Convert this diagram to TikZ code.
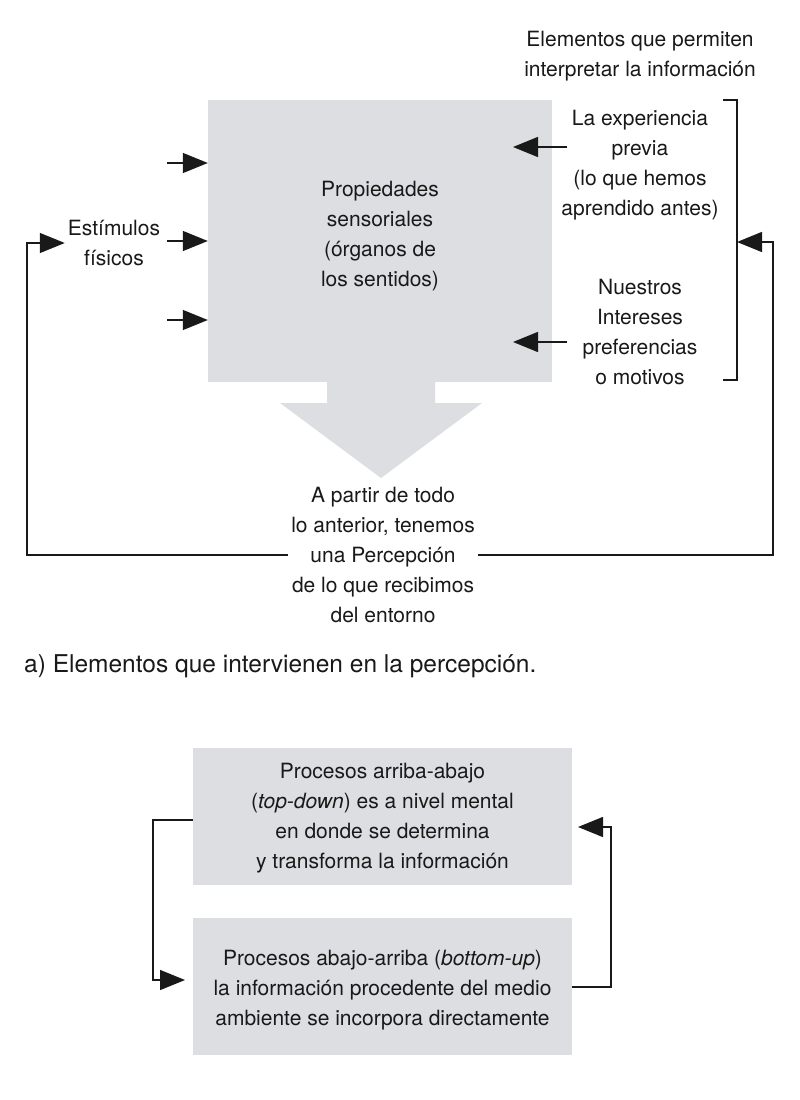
\documentclass[tikz,border=0pt]{standalone}
\usepackage{fontspec}
\setmainfont{TeX Gyre Heros}
\usetikzlibrary{arrows.meta,calc}
\definecolor{boxgray}{RGB}{221,222,225}
\definecolor{ink}{RGB}{25,25,25}
\tikzset{myhead/.tip={Triangle[length=25pt,width=20pt]}}
\begin{document}
\begin{tikzpicture}[x=1pt,y=-1pt,
  txt/.style={align=center,text=ink,font=\fontsize{21}{30}\selectfont,inner sep=3pt},
  gbox/.style={fill=boxgray,draw=none,inner sep=0pt},
  ln/.style={draw=ink,line width=1.4pt},
  arr/.style={ln,-myhead}]
\useasboundingbox (0,0) rectangle (800,1100);
\fill[white] (0,0) rectangle (800,1100);
% top part
\node[gbox,minimum width=344pt,minimum height=282pt] (props) at (380,241) {};
\fill[boxgray] (327,380) -- (435,380) -- (435,403) -- (482,403) -- (381,478) -- (280,403) -- (327,403) -- cycle;
\node[txt] (propst) at (380,236) {Propiedades\\sensoriales\\(órganos de\\los sentidos)};
\node[txt] (title) at (640,56) {Elementos que permiten\\interpretar la información};
\node[txt] (exp) at (640,165) {La experiencia\\previa\\(lo que hemos\\aprendido antes)};
\node[txt] (int) at (640,332) {Nuestros\\Intereses\\preferencias\\o motivos};
\node[txt] (estim) at (114,243) {Estímulos\\físicos};
\node[txt] (perc) at (383,555) {A partir de todo\\lo anterior, tenemos\\una Percepción\\de lo que recibimos\\del entorno};
\node[txt,anchor=west,font=\fontsize{24.5}{30}\selectfont] (cap) at (21,666) {a) Elementos que intervienen en la percepción.};
% left input arrows
\coordinate (l1) at (167,163);
\coordinate (l2) at (167,241);
\coordinate (l3) at (167,320);
\draw[arr] (l1) -- (l1 -| props.west);
\draw[arr] (l2) -- (l2 -| props.west);
\draw[arr] (l3) -- (l3 -| props.west);
% right input arrows
\coordinate (r1s) at (567,147);
\coordinate (r1e) at (513,147);
\coordinate (r2s) at (567,342);
\coordinate (r2e) at (513,342);
\draw[arr] (r1s) -- (r1e);
\draw[arr] (r2s) -- (r2e);
% bracket
\coordinate (bt) at (737,100);
\coordinate (bb) at (737,380);
\coordinate (brk) at (737,242);
\draw[ln] ($(bt)+(-14,0)$) -- (bt) -- (bb) -- ++(-14,0);
% feedback loops
\draw[arr] (perc.west) -- (27,555) |- (estim.west);
\draw[arr] (perc.east) -- (773,555) |- (brk);
% bottom part
\node[gbox,minimum width=379pt,minimum height=137pt] (td) at (382.5,816.5) {};
\node[txt] (tdt) at (382.5,818) {Procesos arriba-abajo\\(\textit{top-down}) es a nivel mental\\en donde se determina\\y transforma la información};
\node[gbox,minimum width=379pt,minimum height=137pt] (bu) at (382.5,986.5) {};
\node[txt] (but) at (382.5,990) {Procesos abajo-arriba (\textit{bottom-up})\\la información procedente del medio\\ambiente se incorpora directamente};
\coordinate (la) at (153,820);
\coordinate (lb) at (185,980);
\coordinate (ra) at (611,987);
\coordinate (rb) at (578,827);
\draw[arr] (td.west |- la) -- (la) |- (lb);
\draw[arr] (bu.east |- ra) -- (ra) |- (rb);
\end{tikzpicture}
\end{document}
